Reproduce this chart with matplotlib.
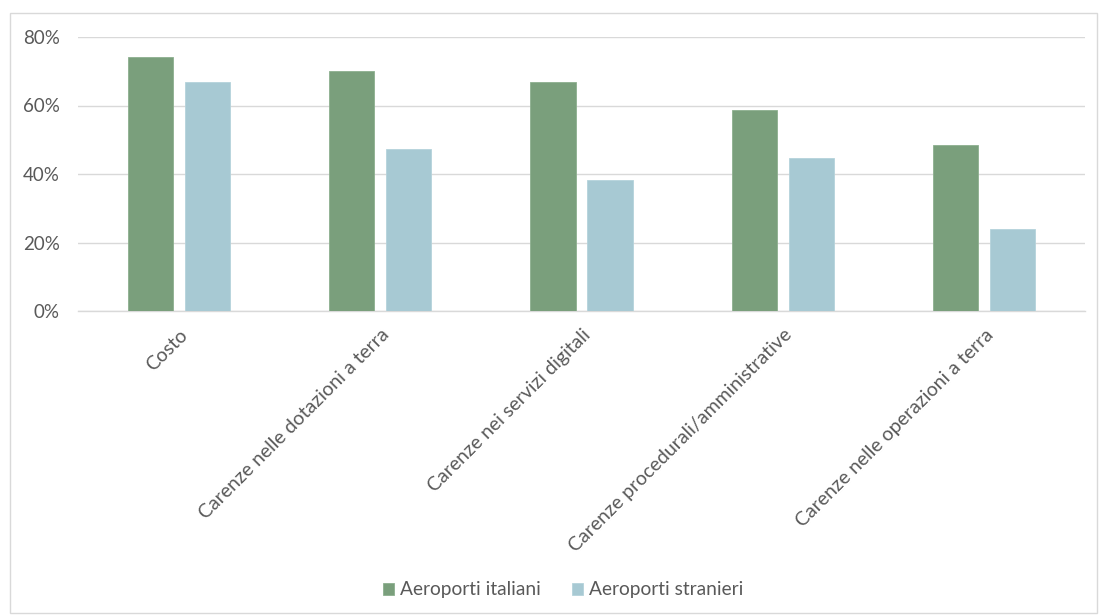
import matplotlib
matplotlib.use("Agg")
import matplotlib.pyplot as plt
from matplotlib.patches import Rectangle
from matplotlib.ticker import FuncFormatter
import numpy as np

categories = ["Costo", "Carenze nelle dotazioni a terra", "Carenze nei servizi digitali",
              "Carenze procedurali/amministrative", "Carenze nelle operazioni a terra"]
italiani = [0.742, 0.701, 0.668, 0.587, 0.484]
stranieri = [0.669, 0.473, 0.382, 0.446, 0.239]
series_names = ["Aeroporti italiani", "Aeroporti stranieri"]
yticks = [0, 0.2, 0.4, 0.6, 0.8]

green = "#7A9F7C"
blue = "#A7C9D3"
txt = "#595959"

plt.rcParams['font.family'] = ['Lato', 'DejaVu Sans']

fig = plt.figure(figsize=(11, 6.16), dpi=100)
ax = fig.add_axes([78/1100, 1-311/616, (1085-78)/1100, (311-37)/616])

x = np.arange(len(categories))
w = 0.224
off = 0.1415
ax.bar(x - off, italiani, w, color=green, edgecolor="#8DB08F", linewidth=0.6, label=series_names[0], zorder=3)
ax.bar(x + off, stranieri, w, color=blue, edgecolor="#B5D3DB", linewidth=0.6, label=series_names[1], zorder=3)

ax.set_xlim(-0.5, len(categories) - 0.5)
ax.set_ylim(0, 0.8)
ax.set_yticks(yticks)
ax.yaxis.set_major_formatter(FuncFormatter(lambda v, p: f"{v*100:.0f}%"))
ax.grid(axis='y', color="#D9D9D9", linewidth=1, zorder=0)
for s in ['top', 'right', 'left']:
    ax.spines[s].set_visible(False)
ax.spines['bottom'].set_color("#D9D9D9")
ax.spines['bottom'].set_linewidth(1)
ax.tick_params(axis='y', length=0, colors=txt, labelsize=13.5, pad=13)
ax.set_xticks(x)
ax.set_xticklabels(categories, rotation=45, ha='right', rotation_mode='anchor')
ax.tick_params(axis='x', length=0, colors=txt, labelsize=14, pad=11)

leg = fig.legend(loc='center', bbox_to_anchor=(563/1100, 1-590/616), ncol=2, frameon=False,
                 fontsize=13.8, handlelength=0.6, handleheight=0.6, columnspacing=1.6, handletextpad=0.3)
for t in leg.get_texts():
    t.set_color(txt)

fig.patches.append(Rectangle((10/1100, 3/616), 1087/1100, (612-12)/616, transform=fig.transFigure,
                             fill=False, edgecolor="#D9D9D9", linewidth=1))

fig.savefig("out.png", dpi=100)
